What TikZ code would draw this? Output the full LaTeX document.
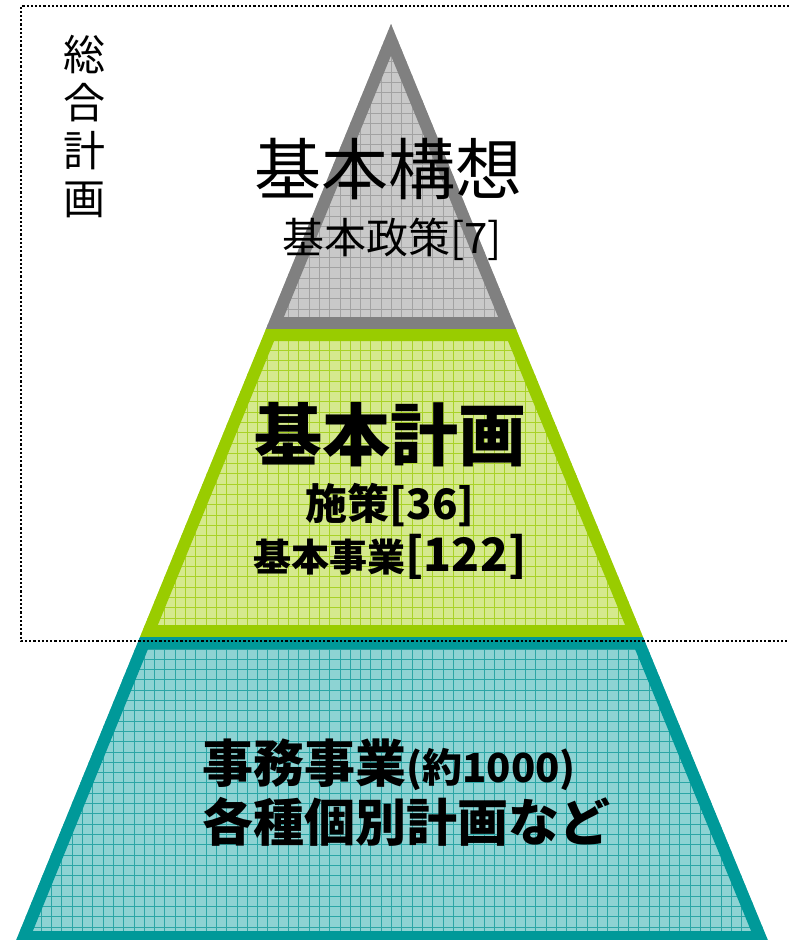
\documentclass[tikz,border=0pt]{standalone}
\usepackage{fontspec}
\setmainfont{Noto Sans CJK JP}
\definecolor{edgegrey}{HTML}{808080}
\definecolor{fillgrey}{HTML}{C9C9C9}
\definecolor{gridgrey}{HTML}{A2A2A2}
\definecolor{edgegreen}{HTML}{99CC00}
\definecolor{fillgreen}{HTML}{D5E98E}
\definecolor{gridgreen}{HTML}{A9D228}
\definecolor{edgeteal}{HTML}{009999}
\definecolor{fillteal}{HTML}{8DD3D3}
\definecolor{gridteal}{HTML}{2BA6A6}
\begin{document}
\begin{tikzpicture}[
x=1pt, y=-1pt,
every node/.style={
inner sep=0pt,
align=center
},
band/.style={line width=24pt, line join=miter},
cellgrid/.style={line width=0.8pt, step=10.3pt},
frame/.style={line width=2.2pt, dash pattern=on 2.2pt off 2pt}
]
\useasboundingbox (0,0) rectangle (789,940);

% top layer
\begin{scope}
\clip (391,24) -- (516,329) -- (266,329) -- cycle;
\fill[fillgrey] (0,0) rectangle (789,940);
\draw[cellgrid, gridgrey] (0,0) grid (789,940);
\draw[band, edgegrey] (391,24) -- (516,329) -- (266,329) -- cycle;
\end{scope}

% middle layer
\begin{scope}
\clip (266,329) -- (516,329) -- (643,637) -- (140,637) -- cycle;
\fill[fillgreen] (0,0) rectangle (789,940);
\draw[cellgrid, gridgreen] (0,0) grid (789,940);
\draw[band, edgegreen] (266,329) -- (516,329) -- (643,637) -- (140,637) -- cycle;
\end{scope}

% bottom layer
\begin{scope}
\clip (140,637) -- (643,637) -- (769,943) -- (15,943) -- cycle;
\fill[fillteal] (0,0) rectangle (789,940);
\draw[cellgrid, gridteal] (0,0) grid (789,940);
\draw[band, edgeteal] (140,637) -- (643,637) -- (769,943) -- (15,943) -- cycle;
\end{scope}

% frame of the general plan
\draw[frame] (789,6) -- (21,6) -- (21,641) -- (789,641);

\node[font=\fontsize{42}{48}\selectfont] (sogo) at (84,127)
{総\\合\\計\\画};

\node (koso) at (388,169)
{\fontsize{67}{67}\selectfont 基本構想};

\node (seisaku) at (392,239)
{\fontsize{42}{42}\selectfont 基本政策[7]};

\node (keikaku) at (390,435)
{\fontsize{68}{68}\selectfont\bfseries 基本計画};

\node (shisaku) at (390,505)
{\fontsize{42}{42}\selectfont\bfseries 施策[36]};

\node (kihonjigyo) at (390,557)
{\bfseries\fontsize{38}{38}\selectfont 基本事業\fontsize{46}{46}\selectfont[122]};

\node (jimujigyo) at (389,765)
{\bfseries\fontsize{51}{51}\selectfont 事務事業\fontsize{40}{40}\selectfont(約1000)};

\node (kobetsu) at (406,822)
{\fontsize{51}{51}\selectfont\bfseries 各種個別計画など};

\end{tikzpicture}
\end{document}
